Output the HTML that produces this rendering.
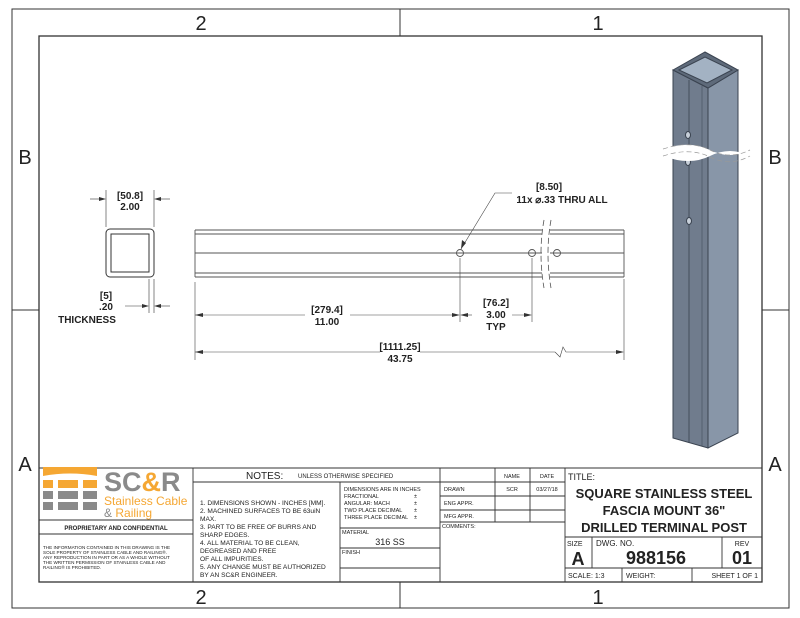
<!DOCTYPE html>
<html><head><style>
body{margin:0;background:#fff}
svg{display:block}
text{font-family:"Liberation Sans",sans-serif}
</style></head><body>
<svg width="800" height="618" viewBox="0 0 800 618" xmlns="http://www.w3.org/2000/svg">
<g fill="none" stroke="#333" stroke-width="1">
<rect x="12" y="9" width="777" height="599"/>
<rect x="39" y="36" width="723" height="546" stroke-width="1.3"/>
<line x1="400" y1="9" x2="400" y2="36"/><line x1="400" y1="582" x2="400" y2="608"/>
<line x1="12" y1="310" x2="39" y2="310"/><line x1="762" y1="310" x2="789" y2="310"/>
</g>
<g font-size="20" fill="#222" text-anchor="middle">
<text x="201" y="30">2</text><text x="598" y="30">1</text>
<text x="201" y="604">2</text><text x="598" y="604">1</text>
<text x="25" y="164">B</text><text x="775" y="164">B</text>
<text x="25" y="471">A</text><text x="775" y="471">A</text>
</g>

<!-- section -->
<g stroke="#333" fill="none">
<rect x="106" y="229" width="48" height="48" rx="4"/>
<rect x="111" y="234" width="38" height="38"/>
<g stroke-width="0.6">
<line x1="106" y1="227" x2="106" y2="190"/><line x1="154" y1="227" x2="154" y2="190"/>
<line x1="90" y1="199" x2="104" y2="199"/><line x1="156" y1="199" x2="170" y2="199"/>
<line x1="149" y1="279" x2="149" y2="313"/><line x1="154" y1="279" x2="154" y2="313"/>
<line x1="125" y1="306" x2="147" y2="306"/><line x1="156" y1="306" x2="170" y2="306"/>
</g></g>
<g fill="#333"><polygon points="106,199 99,197 99,201"/><polygon points="154,199 161,197 161,201"/>
<polygon points="149,306 142,304 142,308"/><polygon points="154,306 161,304 161,308"/></g>
<g font-size="10" font-weight="bold" fill="#222" text-anchor="middle">
<text x="130" y="199">[50.8]</text><text x="130" y="210">2.00</text>
<text x="106" y="299">[5]</text><text x="106" y="310">.20</text>
<text x="87" y="323">THICKNESS</text>
</g>

<!-- side view -->
<g stroke="#555" fill="none" stroke-width="0.9">
<line x1="195" y1="230" x2="624" y2="230"/><line x1="195" y1="234" x2="624" y2="234"/>
<line x1="195" y1="253" x2="624" y2="253"/><line x1="195" y1="273" x2="624" y2="273"/>
<line x1="195" y1="277" x2="624" y2="277"/>
<line x1="195" y1="230" x2="195" y2="277"/><line x1="624" y1="230" x2="624" y2="277"/>
<circle cx="460" cy="253" r="3.5"/><circle cx="532" cy="253" r="3.5"/><circle cx="557" cy="253" r="3.5"/>
</g>
<rect x="542" y="220" width="8" height="70" fill="#fff"/>
<g stroke="#555" fill="none" stroke-width="0.8" stroke-dasharray="6,3">
<path d="M544,220 Q538,253 544,288"/><path d="M551,220 Q545,253 551,288"/>
</g>
<g stroke="#444" stroke-width="0.6" fill="none">
<polyline points="461,249 495,193 512,193"/>
<line x1="195" y1="282" x2="195" y2="360"/><line x1="460" y1="258" x2="460" y2="322"/>
<line x1="532" y1="258" x2="532" y2="322"/><line x1="624" y1="279" x2="624" y2="360"/>
<line x1="195" y1="315" x2="305" y2="315"/><line x1="350" y1="315" x2="458" y2="315"/>
<line x1="462" y1="315" x2="472" y2="315"/><line x1="512" y1="315" x2="530" y2="315"/>
<line x1="195" y1="352" x2="380" y2="352"/><line x1="420" y1="352" x2="555" y2="352"/>
<polyline points="555,352 560,357 563,347 566,352 622,352"/>
</g>
<g fill="#333">
<polygon points="461,249 462,240 466,243"/>
<polygon points="195,315 203,313 203,317"/><polygon points="460,315 452,313 452,317"/>
<polygon points="460,315 468,313 468,317"/><polygon points="532,315 524,313 524,317"/>
<polygon points="195,352 203,350 203,354"/><polygon points="624,352 616,350 616,354"/>
</g>
<g font-size="10" font-weight="bold" fill="#222" text-anchor="middle">
<text x="549" y="190">[8.50]</text>
<text x="562" y="203">11x  ⌀.33 THRU ALL</text>
<text x="327" y="313">[279.4]</text><text x="327" y="325">11.00</text>
<text x="496" y="306">[76.2]</text><text x="496" y="318">3.00</text><text x="496" y="330">TYP</text>
<text x="400" y="350">[1111.25]</text><text x="400" y="362">43.75</text>
</g>

<!-- 3D post -->
<g stroke="#3a4350" stroke-width="1">
<polygon points="673,70 708,88 708,448 673,438" fill="#707c8d"/>
<polygon points="708,88 738,70 738,433 708,448" fill="#8896a8"/>
<polygon points="673,70 705,52 738,70 708,88" fill="#5e6a7a"/>
<polygon points="679,70 705,57 732,70 707,83" fill="#a3b2c3"/>
<line x1="689" y1="80" x2="689" y2="443" stroke-width="0.8"/>
<line x1="702" y1="86" x2="702" y2="446" stroke-width="0.5"/>
<ellipse cx="688" cy="135" rx="2.5" ry="3.5" fill="#c8d0da"/>
<ellipse cx="688" cy="162" rx="2.5" ry="3.5" fill="#c8d0da"/>
<ellipse cx="689" cy="221" rx="2.5" ry="3.5" fill="#c8d0da"/>
</g>
<path d="M663,149 Q690,140 710,150 T750,150 L750,156 Q730,146 710,156 T663,156 Z" fill="#fff"/>
<g stroke="#999" stroke-width="0.7" fill="none" stroke-dasharray="5,3">
<path d="M663,149 Q690,140 710,150 T750,150"/><path d="M663,156 Q690,147 710,157 T750,156"/>
</g>

<!-- title block -->
<g stroke="#333" fill="none" stroke-width="0.9">
<line x1="39" y1="468" x2="762" y2="468"/>
<line x1="193" y1="468" x2="193" y2="582"/>
<line x1="39" y1="520" x2="193" y2="520"/><line x1="39" y1="534" x2="193" y2="534"/>
<line x1="193" y1="482" x2="440" y2="482"/>
<line x1="340" y1="482" x2="340" y2="582"/>
<line x1="340" y1="528" x2="440" y2="528"/><line x1="340" y1="548" x2="440" y2="548"/>
<line x1="340" y1="568" x2="440" y2="568"/>
<line x1="440" y1="468" x2="440" y2="582"/>
<line x1="495" y1="468" x2="495" y2="522"/><line x1="530" y1="468" x2="530" y2="522"/>
<line x1="440" y1="482" x2="565" y2="482"/><line x1="440" y1="496" x2="565" y2="496"/>
<line x1="440" y1="510" x2="565" y2="510"/><line x1="440" y1="522" x2="565" y2="522"/>
<line x1="565" y1="468" x2="565" y2="582"/>
<line x1="565" y1="537" x2="762" y2="537"/><line x1="565" y1="568" x2="762" y2="568"/>
<line x1="592" y1="537" x2="592" y2="568"/><line x1="722" y1="537" x2="722" y2="568"/>
<line x1="622" y1="568" x2="622" y2="582"/><line x1="692" y1="568" x2="692" y2="582"/>
</g>
<!-- logo -->
<g>
<path d="M43,467 L97,467 L97,476 Q70,471 43,476 Z" fill="#f5a733"/>
<rect x="43" y="480" width="10" height="8" fill="#f5a733"/><rect x="58" y="480" width="20" height="8" fill="#f5a733"/><rect x="83" y="480" width="14" height="8" fill="#f5a733"/>
<rect x="43" y="491" width="10" height="8" fill="#8a8a8a"/><rect x="58" y="491" width="20" height="8" fill="#8a8a8a"/><rect x="83" y="491" width="14" height="8" fill="#8a8a8a"/>
<rect x="43" y="502" width="10" height="8" fill="#8a8a8a"/><rect x="58" y="502" width="20" height="8" fill="#8a8a8a"/><rect x="83" y="502" width="14" height="8" fill="#8a8a8a"/>
<text x="104" y="491" font-size="27" font-weight="bold" fill="#8a8a8a">SC<tspan fill="#f5a733">&amp;</tspan>R</text>
<text x="104" y="505" font-size="12" fill="#f5a733">Stainless Cable</text>
<text x="104" y="517" font-size="12" fill="#f5a733"><tspan fill="#8a8a8a">&amp;</tspan> Railing</text>
</g>
<g fill="#222">
<text x="116" y="530" font-size="6" font-weight="bold" text-anchor="middle">PROPRIETARY AND CONFIDENTIAL</text>
<g font-size="4.6"><text x="43" y="549">THE INFORMATION CONTAINED IN THIS DRAWING IS THE</text>
<text x="43" y="554">SOLE PROPERTY OF STAINLESS CABLE AND RAILING®.</text>
<text x="43" y="559">ANY REPRODUCTION IN PART OR AS A WHOLE WITHOUT</text>
<text x="43" y="564">THE WRITTEN PERMISSION OF STAINLESS CABLE AND</text>
<text x="43" y="569">RAILING® IS PROHIBITED.</text></g>
<text x="246" y="479" font-size="10">NOTES:</text>
<text x="298" y="478" font-size="6">UNLESS OTHERWISE SPECIFIED</text>
<g font-size="6.6"><text x="200" y="505">1. DIMENSIONS SHOWN - INCHES [MM].</text>
<text x="200" y="513">2. MACHINED SURFACES TO BE 63uiN</text>
<text x="200" y="521">MAX.</text><text x="200" y="529">3. PART TO BE FREE OF BURRS AND</text>
<text x="200" y="537">SHARP EDGES.</text><text x="200" y="545">4. ALL MATERIAL TO BE CLEAN,</text>
<text x="200" y="553">DEGREASED AND FREE</text><text x="200" y="561">OF ALL IMPURITIES.</text>
<text x="200" y="569">5. ANY CHANGE MUST BE AUTHORIZED</text><text x="200" y="577">BY AN SC&amp;R ENGINEER.</text></g>
<g font-size="5.5"><text x="344" y="491">DIMENSIONS ARE IN INCHES</text>
<text x="344" y="498">FRACTIONAL</text><text x="344" y="505">ANGULAR: MACH</text>
<text x="344" y="512">TWO PLACE DECIMAL</text><text x="344" y="519">THREE PLACE DECIMAL</text>
<text x="414" y="498">±</text><text x="414" y="505">±</text><text x="414" y="512">±</text><text x="414" y="519">±</text>
<text x="342" y="534">MATERIAL</text><text x="342" y="554">FINISH</text>
<text x="444" y="491">DRAWN</text><text x="444" y="505">ENG APPR.</text><text x="444" y="518">MFG APPR.</text>
<text x="442" y="528">COMMENTS:</text>
<text x="512" y="478" text-anchor="middle">NAME</text><text x="547" y="478" text-anchor="middle">DATE</text>
<text x="512" y="491" text-anchor="middle">SCR</text><text x="547" y="491" text-anchor="middle">03/27/18</text></g>
<text x="390" y="545" font-size="9" text-anchor="middle">316 SS</text>
<text x="568" y="480" font-size="9">TITLE:</text>
<g font-size="13" font-weight="bold" text-anchor="middle"><text x="664" y="498">SQUARE STAINLESS STEEL</text>
<text x="664" y="515">FASCIA MOUNT 36"</text><text x="664" y="532">DRILLED TERMINAL POST</text></g>
<text x="567" y="546" font-size="7">SIZE</text>
<text x="578" y="565" font-size="18" font-weight="bold" text-anchor="middle">A</text>
<text x="596" y="546" font-size="8">DWG.  NO.</text>
<text x="656" y="564" font-size="18" font-weight="bold" text-anchor="middle">988156</text>
<text x="742" y="546" font-size="7" text-anchor="middle">REV</text>
<text x="742" y="564" font-size="18" font-weight="bold" text-anchor="middle">01</text>
<text x="568" y="578" font-size="7">SCALE: 1:3</text><text x="626" y="578" font-size="7">WEIGHT:</text>
<text x="758" y="578" font-size="7" text-anchor="end">SHEET 1 OF 1</text>
</g>
</svg>
</body></html>
